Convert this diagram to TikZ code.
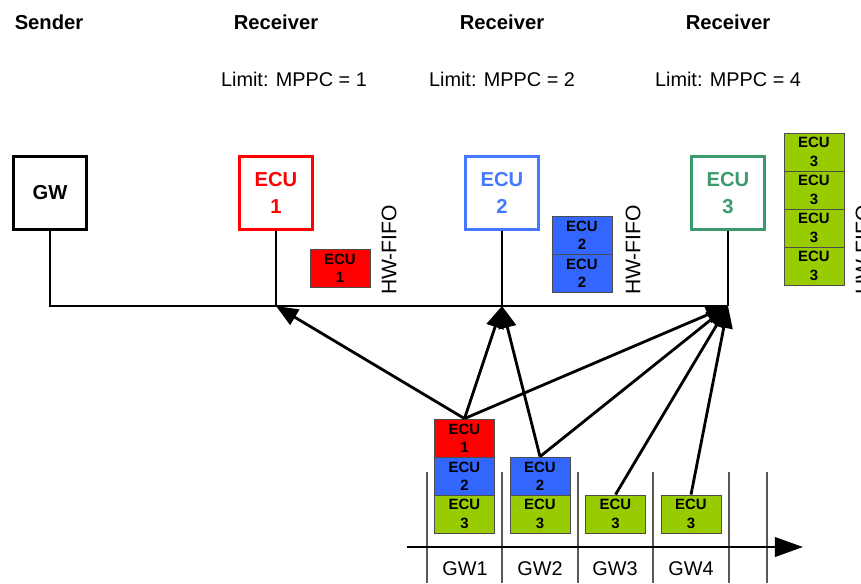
\documentclass[tikz,border=0pt]{standalone}
\usepackage{fontspec}
\setmainfont{Liberation Sans}
\usetikzlibrary{arrows.meta}

\definecolor{ecured}{HTML}{FF0000}
\definecolor{ecublue}{HTML}{4479FF}
\definecolor{ecugreen}{HTML}{3A9A6C}
\definecolor{fifoblue}{HTML}{3366FF}
\definecolor{fifogreen}{HTML}{99CC00}

\begin{document}
\begin{tikzpicture}[
    x=0.02cm, y=-0.02cm,
    ecubox/.style={draw=#1, text=#1, line width=1.6pt, minimum width=1.46cm, minimum height=1.46cm,
        inner sep=0pt, align=center, font=\fontsize{11.5}{15}\selectfont\bfseries},
    cell/.style={draw=black!70, line width=0.5pt, fill=#1, minimum width=1.2cm, minimum height=0.76cm,
        inner sep=0pt, align=center, font=\fontsize{8.5}{10.5}\selectfont\bfseries},
    bus/.style={line width=1.6pt},
    msg/.style={-{Triangle[length=12.5pt, width=10pt]}, line width=1.6pt},
    head/.style={font=\fontsize{11.5}{14}\selectfont\bfseries},
    fifolabel/.style={rotate=90, font=\fontsize{12}{14}\selectfont},
    font=\fontsize{11.3}{14}\selectfont
]
    \useasboundingbox (0,0) rectangle (861,583);

    % 标题
    \node[head] (tSend) at (49,22) {Sender};
    \node[head] (tRec1) at (276,22) {Receiver};
    \node[head] (tRec2) at (502,22) {Receiver};
    \node[head] (tRec3) at (728,22) {Receiver};
    \node (lim1) at (294,79) {Limit: MPPC = 1};
    \node (lim2) at (502,79) {Limit: MPPC = 2};
    \node (lim3) at (728,79) {Limit: MPPC = 4};

    % 总线上的节点
    \node[ecubox=black] (GW) at (50,193) {GW};
    \node[ecubox=ecured] (ECU1) at (276,193) {ECU\\1};
    \node[ecubox=ecublue] (ECU2) at (502,193) {ECU\\2};
    \node[ecubox=ecugreen] (ECU3) at (728,193) {ECU\\3};

    % 总线
    \coordinate (B0) at (50,306);
    \coordinate (B1) at (276,306);
    \coordinate (B2) at (502,306);
    \coordinate (B3) at (728,306);
    \draw[bus] (GW.south) -- (B0) -- (B3);
    \draw[bus] (ECU1.south) -- (B1);
    \draw[bus] (ECU2.south) -- (B2);
    \draw[bus] (ECU3.south) -- (B3);

    % HW-FIFO
    \node[cell=ecured] (F11) at (340,268.5) {ECU\\1};
    \node[cell=fifoblue] (F21) at (582,235) {ECU\\2};
    \node[cell=fifoblue] (F22) at (582,273) {ECU\\2};
    \foreach \i/\y in {1/152,2/190,3/228,4/266}
        \node[cell=fifogreen] (F3\i) at (814,\y) {ECU\\3};
    \node[fifolabel] (hw1) at (389,250) {HW-FIFO};
    \node[fifolabel] (hw2) at (633,250) {HW-FIFO};
    \node[fifolabel] (hw3) at (863,250) {HW-FIFO};

    % 时间轴
    \coordinate (T0) at (407,547);
    \coordinate (T1) at (803,547);
    \foreach \x in {427,502,578,653,729,767}
        \draw[black!65, line width=0.7pt] (\x,472) -- (\x,583);
    \draw[line width=1.6pt, -{Triangle[length=16pt, width=11pt]}] (T0) -- (T1);
    \node (gw1) at (465,569) {GW1};
    \node (gw2) at (540,569) {GW2};
    \node (gw3) at (615,569) {GW3};
    \node (gw4) at (691,569) {GW4};

    % 网关中的帧
    \node[cell=ecured] (S1a) at (464.5,438) {ECU\\1};
    \node[cell=fifoblue] (S1b) at (464.5,476) {ECU\\2};
    \node[cell=fifogreen] (S1c) at (464.5,514) {ECU\\3};
    \node[cell=fifoblue] (S2a) at (540,476) {ECU\\2};
    \node[cell=fifogreen] (S2b) at (540,514) {ECU\\3};
    \node[cell=fifogreen] (S3) at (615.5,514) {ECU\\3};
    \node[cell=fifogreen] (S4) at (691,514) {ECU\\3};

    % 转发箭头
    \draw[msg] (S1a.north) -- (B1);
    \draw[msg] (S1a.north) -- (B2);
    \draw[msg] (S1a.north) -- (B3);
    \draw[msg] (S2a.north) -- (B2);
    \draw[msg] (S2a.north) -- (B3);
    \draw[msg] (S3.north) -- (B3);
    \draw[msg] (S4.north) -- (B3);
\end{tikzpicture}
\end{document}
